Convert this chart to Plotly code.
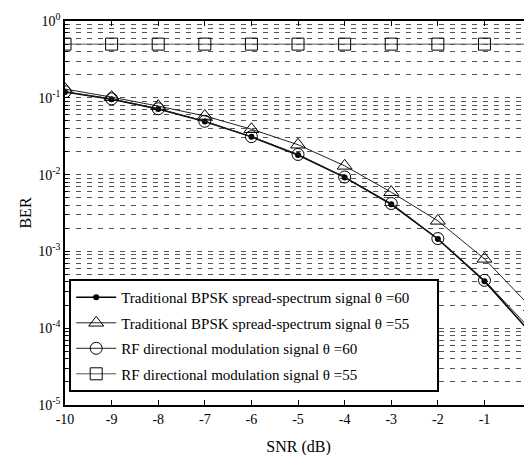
import plotly.graph_objects as go

snr = [-10, -9, -8, -7, -6, -5, -4, -3, -2, -1, 0]
trad_60 = [0.119, 0.096, 0.0715, 0.049, 0.031, 0.018, 0.0092, 0.0041, 0.00145, 0.00041, 0.000086]
trad_55 = [0.13, 0.102, 0.078, 0.058, 0.039, 0.0245, 0.013, 0.0059, 0.0025, 0.0008, 0.000187]
rf_60 = [0.12, 0.097, 0.072, 0.0495, 0.0312, 0.0183, 0.0093, 0.0042, 0.00147, 0.00042, 0.000095]
rf_55 = [0.5, 0.5, 0.5, 0.5, 0.5, 0.5, 0.5, 0.5, 0.5, 0.5, 0.5]

PAD = "\u00a0" * 6
names = [
    "Traditional BPSK spread-spectrum signal \u03b8 =60" + PAD,
    "Traditional BPSK spread-spectrum signal \u03b8 =55" + PAD,
    "RF directional modulation signal \u03b8 =60",
    "RF directional modulation signal \u03b8 =55",
]
y_ticks = [1, 0.1, 0.01, 0.001, 0.0001, 0.00001]
y_tick_text = ["10<sup>0</sup>", "10<sup>-1</sup>", "10<sup>-2</sup>", "10<sup>-3</sup>",
               "10<sup>-4</sup>", "10<sup>-5</sup>"]
x_ticks = snr
x_tick_text = ["-10", "-9", "-8", "-7", "-6", "-5", "-4", "-3", "-2", "-1", "0"]

FONT = "Liberation Serif, Times New Roman, serif"

fig = go.Figure()
fig.add_trace(go.Scatter(x=snr, y=trad_60, name=names[0], mode="lines+markers",
                         line=dict(color="black", width=1.5),
                         marker=dict(symbol="circle", size=6, color="black"),
                         legendgroup="a"))
fig.add_trace(go.Scatter(x=snr, y=trad_55, name=names[1], mode="lines+markers",
                         line=dict(color="#222", width=1),
                         marker=dict(symbol="triangle-up-open", size=13, color="black",
                                     line=dict(width=1, color="black")),
                         legendgroup="b"))
fig.add_trace(go.Scatter(x=snr, y=rf_60, name=names[2], mode="lines+markers",
                         line=dict(color="#222", width=1),
                         marker=dict(symbol="circle-open", size=12, color="black",
                                     line=dict(width=1, color="black")),
                         legendgroup="c"))
fig.add_trace(go.Scatter(x=snr, y=rf_55, name=names[3], mode="lines+markers",
                         line=dict(color="#555", width=1),
                         marker=dict(symbol="square-open", size=12, color="black",
                                     line=dict(width=1, color="black")),
                         legendgroup="d"))

fig.update_layout(
    width=532, height=455,
    margin=dict(l=57, r=8, t=13, b=58, autoexpand=False),
    paper_bgcolor="white", plot_bgcolor="white",
    font=dict(family=FONT, size=14, color="black"),
    showlegend=True,
    legend=dict(x=0.009, y=0.328, xanchor="left", yanchor="top",
                bgcolor="white", bordercolor="black", borderwidth=2,
                font=dict(family=FONT, size=15, color="black"),
                traceorder="grouped", tracegroupgap=3, itemwidth=40),
    xaxis=dict(range=[-10, 0.02], tickvals=x_ticks, ticktext=x_tick_text,
               ticks="inside", ticklen=5, tickcolor="black", automargin=False,
               showline=True, linecolor="black", linewidth=1.5, mirror="ticks",
               showgrid=False, zeroline=False,
               title=dict(text="SNR (dB)", font=dict(size=16), standoff=15),
               tickfont=dict(size=14)),
    yaxis=dict(type="log", range=[-5, 0], tickvals=y_ticks, ticktext=y_tick_text,
               ticks="inside", ticklen=5, tickcolor="black", automargin=False,
               showline=True, linecolor="black", linewidth=1.5,
               showgrid=True, gridcolor="#555", griddash="5px,6px", gridwidth=1,
               zeroline=False,
               minor=dict(dtick="D1", showgrid=True, gridcolor="#555", griddash="5px,6px",
                          gridwidth=1, ticks="inside", ticklen=3, tickcolor="black"),
               title=dict(text="BER", font=dict(size=16), standoff=3),
               tickfont=dict(size=14)),
)

fig.write_html("out.html")
